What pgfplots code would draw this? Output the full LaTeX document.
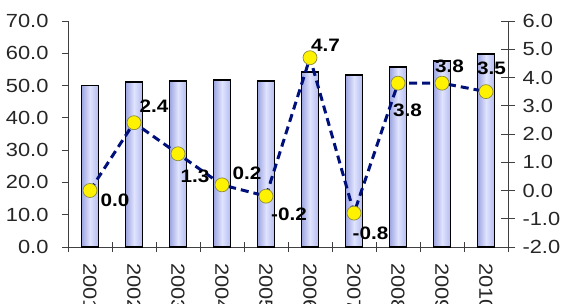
\documentclass[border=0pt]{standalone}
\usepackage{pgfplots}
\pgfplotsset{compat=1.18}
\usepackage{pgfplotstable}
\usepackage{fontspec}
\setmainfont{Liberation Sans}[FakeStretch=1.15]
\definecolor{axgray}{HTML}{404040}
\definecolor{barleft}{HTML}{9CA4E0}
\definecolor{barright}{HTML}{B4BCEE}
\definecolor{barmid}{HTML}{E0E4FF}
\definecolor{navy}{HTML}{00107A}
\definecolor{dotfill}{HTML}{FFF200}
\definecolor{dotedge}{HTML}{8A8A40}
\pgfplotstableread{
x bar
1 50.0
2 51.0
3 51.5
4 51.7
5 51.5
6 54.2
7 53.3
8 55.7
9 57.6
10 59.7
}\bars
\pgfplotstableread{
x y lab dx dy
1 0.0 0.0 25 -10
2 2.4 2.4 20 16
3 1.3 1.3 17 -23
4 0.2 0.2 25 12
5 -0.2 -0.2 23 -18.5
6 4.7 4.7 15.5 12
7 -0.8 -0.8 16.5 -20
8 3.8 3.8 9.5 -27
9 3.8 3.8 7.5 17
10 3.5 3.5 5.5 23
}\growth
\begin{document}
\begin{tikzpicture}
\useasboundingbox (0,0) rectangle (564pt,303pt);
\begin{axis}[
  at={(68pt,56pt)}, anchor=south west,
  scale only axis, width=440pt, height=226pt,
  xmin=0.5, xmax=10.5, ymin=0, ymax=70,
  axis x line*=bottom, axis y line*=left,
  axis line style={axgray, line width=0.8pt, -},
  xtick={1,...,10},
  xticklabels={2001,2002,2003,2004,2005,2006,2007,2008,2009,2010},
  major x tick style={draw=none},
  minor xtick={0.5,1.5,...,10.5},
  minor x tick style={axgray, line width=0.8pt},
  minor tick length=10pt,
  ytick={0,10,...,70},
  y tick style={axgray, line width=0.8pt},
  ytick align=outside, major tick length=6pt,
  xtick align=center,
  yticklabel style={/pgf/number format/fixed, /pgf/number format/fixed zerofill, /pgf/number format/precision=1, /pgf/number format/assume math mode=true, font=\fontsize{19}{22}\selectfont, text=black!85},
  xticklabel style={rotate=-90, anchor=west, font=\fontsize{19}{22}\selectfont, text=black!85},
  xticklabel shift=10pt,
  yticklabel shift=10pt,
  clip=false,
]
\pgfplotsinvokeforeach{1,...,10}{
\addplot[ybar, bar width=17pt, bar shift=0pt, draw=black, line width=1.7pt, left color=barleft, right color=barright, middle color=barmid, restrict x to domain=#1:#1] table[x=x,y=bar]{\bars};
}
\end{axis}
\begin{axis}[
  at={(68pt,56pt)}, anchor=south west,
  scale only axis, width=440pt, height=226pt,
  xmin=0.5, xmax=10.5, ymin=-2, ymax=6,
  axis x line=none, axis y line*=right,
  axis line style={axgray, line width=0.8pt, -},
  ytick={-2,-1,...,6},
  y tick style={axgray, line width=0.8pt},
  ytick align=center, major tick length=14pt,
  yticklabel style={/pgf/number format/fixed, /pgf/number format/fixed zerofill, /pgf/number format/precision=1, /pgf/number format/assume math mode=true, font=\fontsize{19}{22}\selectfont, text=black!85},
  yticklabel shift=4pt,
  clip=false,
]
\addplot[navy, line width=3pt, dash pattern=on 8pt off 5pt, mark=*, mark size=7pt, mark options={solid, fill=dotfill, draw=dotedge, line width=0.7pt}] table[x=x,y=y]{\growth};
\addplot[draw=none, mark=none, nodes near coords, point meta=explicit symbolic,
  visualization depends on={\thisrow{dx}\as\myDx},
  visualization depends on={\thisrow{dy}\as\myDy},
  every node near coord/.append style={anchor=center, xshift=\myDx pt, yshift=\myDy pt, font=\fontsize{18}{20}\selectfont\bfseries, text=black, inner sep=0pt}]
  table[x=x,y=y,meta=lab]{\growth};
\end{axis}
\end{tikzpicture}
\end{document}
